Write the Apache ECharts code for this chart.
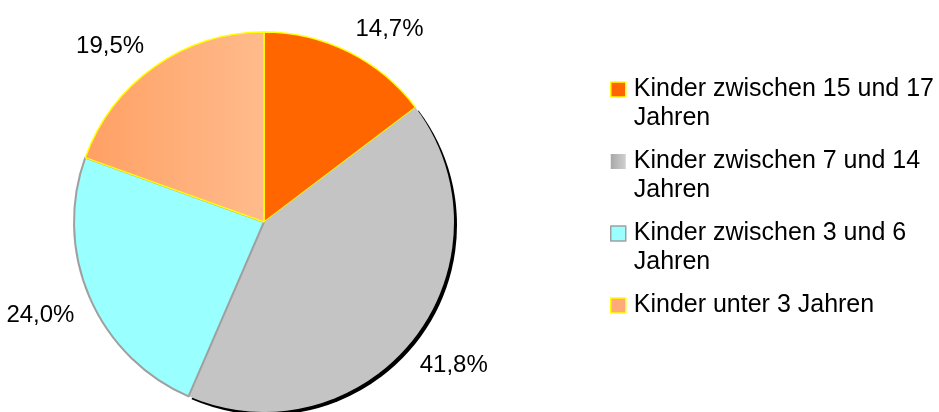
<!DOCTYPE html>
<html><head><meta charset="utf-8">
<script src="https://cdn.jsdelivr.net/npm/echarts@6/dist/echarts.min.js"></script>
<style>html,body{margin:0;padding:0;background:#fff}#c{width:939px;height:412px}</style>
</head><body><div id="c"></div>
<script>
const categories = ['Kinder zwischen 15 und 17 Jahren','Kinder zwischen 7 und 14 Jahren','Kinder zwischen 3 und 6 Jahren','Kinder unter 3 Jahren'];
const legendLines = [['Kinder zwischen 15 und 17','Jahren'],['Kinder zwischen 7 und 14','Jahren'],['Kinder zwischen 3 und 6','Jahren'],['Kinder unter 3 Jahren','']];
const values = [14.7, 41.8, 24.0, 19.5];

const FONT = '"Liberation Sans", Arial, sans-serif';
const grad = (a, b) => ({type:'linear', x:0, y:0, x2:1, y2:0, colorStops:[{offset:0,color:a},{offset:1,color:b}]});
const sliceStyles = [
  {color:'#ff6600', borderColor:'#ffff00', borderWidth:1.5},
  {color:'#c4c4c4', borderWidth:0, shadowColor:'#000', shadowBlur:0, shadowOffsetX:3, shadowOffsetY:3},
  {color:'#99ffff', borderColor:'#a0a0a0', borderWidth:2},
  {color:grad('#ffa064','#ffbb8c'), borderColor:'#ffff00', borderWidth:1.5}
];
const legendIcons = [
  {color:'#ff6600', borderColor:'#ffff00', borderWidth:1.5},
  {color:grad('#a8a8a8','#d0d0d0'), borderWidth:0},
  {color:'#99ffff', borderColor:'#a0a0a0', borderWidth:1.5},
  {color:'#ffaa78', borderColor:'#ffff00', borderWidth:1.5}
];
// label nudges (px) to mimic the original's label placement
const labelNudge = [[-8,-3],[-16,12],[10,9],[7,-2]];

const chart = echarts.init(document.getElementById('c'), null, {renderer:'canvas'});
chart.setOption({
  animation:false,
  backgroundColor:'#ffffff',
  legend:{
    orient:'vertical', left:605, top:41, itemWidth:15, itemHeight:15, itemGap:-15,
    icon:'rect',
    data: categories.map((n,i)=>({name:n, itemStyle: legendIcons[i]})),
    textStyle:{fontFamily:FONT, fontSize:25, color:'#000', lineHeight:29, padding:[0,0,0,3]},
    // leading empty line keeps the icon level with the first text line
    formatter: name => '\n' + legendLines[categories.indexOf(name)].join('\n'),
    selectedMode:false
  },
  series:[{
    type:'pie', center:[264,222], radius:190, startAngle:90, clockwise:true,
    avoidLabelOverlap:false,
    data: categories.map((n,i)=>({name:n, value:values[i], itemStyle:sliceStyles[i]})),
    label:{show:true, position:'outside', fontFamily:FONT, fontSize:24, color:'#000',
      formatter: p => p.value.toFixed(1).replace('.', ',') + '%'},
    labelLine:{show:false, length:22, length2:0},
    labelLayout: p => ({dx:labelNudge[p.dataIndex][0], dy:labelNudge[p.dataIndex][1]}),
    emphasis:{disabled:true}
  }]
});
</script></body></html>
